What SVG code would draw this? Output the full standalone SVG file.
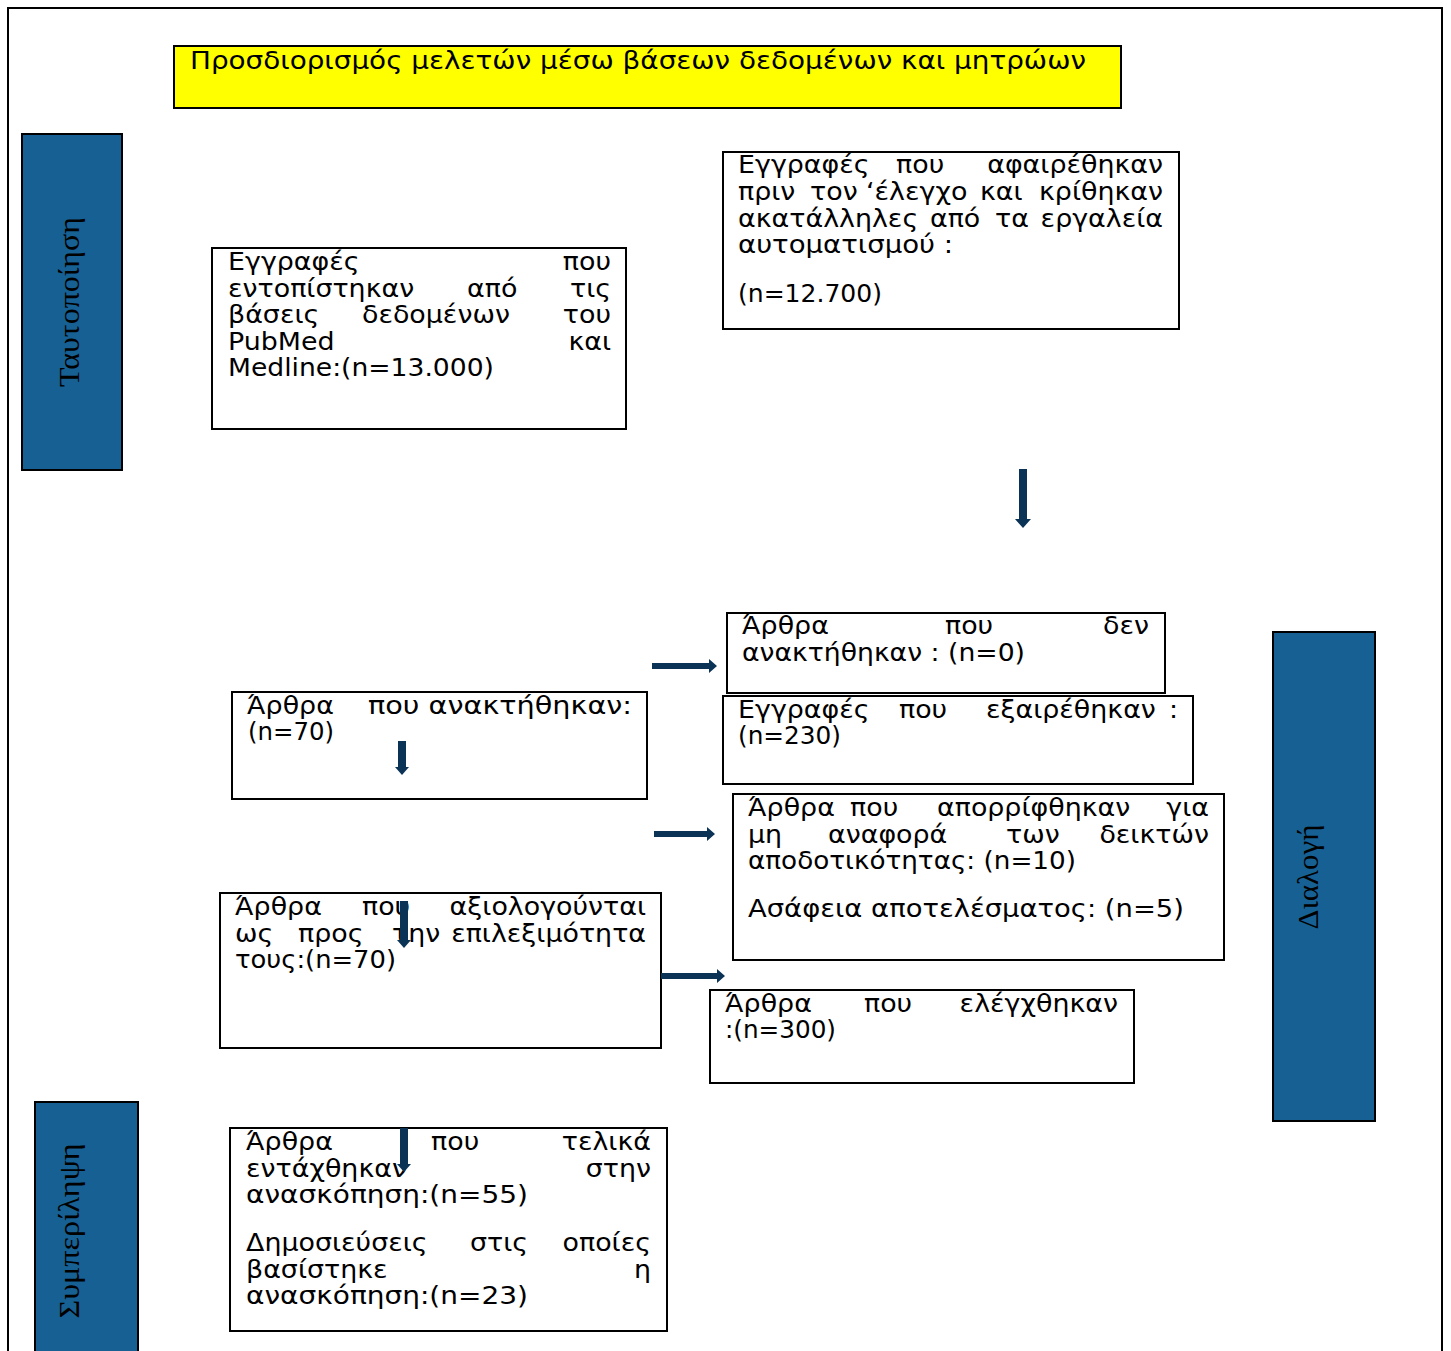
<svg xmlns="http://www.w3.org/2000/svg" width="1451" height="1351" viewBox="0 0 1451 1351">
<style>
.box{fill:#ffffff;stroke:#000000;stroke-width:2}
.side{fill:#166094;stroke:#000000;stroke-width:2}
.t{font-family:"DejaVu Sans","Liberation Sans",sans-serif;font-size:24px;fill:#000000}
.e{text-anchor:end}
.s{font-family:"Liberation Serif","DejaVu Serif",serif;font-size:30px;fill:#000000;text-anchor:middle}
.arr{fill:#0b3356}
</style>
<rect x="0" y="0" width="1451" height="1351" fill="#ffffff"/>
<path d="M8,1351 V8 H1442 V1351" fill="none" stroke="#000000" stroke-width="2"/>

<g id="title">
<rect x="174" y="46" width="947" height="62" fill="#ffff00" stroke="#000000" stroke-width="2"/>
<text class="t" x="190" y="69" font-size="26" textLength="896" lengthAdjust="spacingAndGlyphs">Προσδιορισμός μελετών μέσω βάσεων δεδομένων και μητρώων</text>
</g>

<g id="side-identification">
<rect class="side" x="22" y="134" width="100" height="336"/>
<text class="s" transform="translate(79,302) rotate(-90)" textLength="170" lengthAdjust="spacingAndGlyphs">Ταυτοποίηση</text>
</g>
<g id="side-screening">
<rect class="side" x="1273" y="632" width="102" height="489"/>
<text class="s" transform="translate(1318,877) rotate(-90)" textLength="105" lengthAdjust="spacingAndGlyphs">Διαλογή</text>
</g>
<g id="side-inclusion">
<rect class="side" x="35" y="1102" width="103" height="260"/>
<text class="s" transform="translate(79,1231) rotate(-90)" textLength="175" lengthAdjust="spacingAndGlyphs">Συμπερίληψη</text>
</g>

<g id="n-identified">
<rect class="box" x="212" y="248" width="414" height="181"/>
<g transform="translate(228 0) scale(1.12 1)">
<text class="t" x="0" y="270">Εγγραφές</text><text class="t e" x="342" y="270">που</text>
<text class="t" x="0" y="297">εντοπίστηκαν</text><text class="t" x="213.4" y="297">από</text><text class="t e" x="342" y="297">τις</text>
<text class="t" x="0" y="323">βάσεις</text><text class="t" x="119.6" y="323">δεδομένων</text><text class="t e" x="342" y="323">του</text>
<text class="t" x="0" y="350">PubMed</text><text class="t e" x="342" y="350">και</text>
</g>
<text class="t" x="228" y="376" textLength="266" lengthAdjust="spacingAndGlyphs">Medline:(n=13.000)</text>
</g>

<g id="n-removed">
<rect class="box" x="723" y="152" width="456" height="177"/>
<g transform="translate(738 0) scale(1.12 1)">
<text class="t" x="0" y="173">Εγγραφές</text><text class="t" x="141.1" y="173">που</text><text class="t e" x="379.5" y="173">αφαιρέθηκαν</text>
<text class="t" x="0" y="200">πριν</text><text class="t" x="64.3" y="200">τον</text><text class="t" x="114.3" y="200">‘έλεγχο</text><text class="t" x="216" y="200">και</text><text class="t e" x="379.5" y="200">κρίθηκαν</text>
<text class="t" x="0" y="227">ακατάλληλες</text><text class="t" x="171.4" y="227">από</text><text class="t" x="229.5" y="227">τα</text><text class="t e" x="379.5" y="227">εργαλεία</text>
</g>
<text class="t" x="738" y="253" textLength="215" lengthAdjust="spacingAndGlyphs">αυτοματισμού :</text>
<text class="t" x="738" y="302" textLength="144" lengthAdjust="spacingAndGlyphs">(n=12.700)</text>
</g>

<g id="n-not-retrieved">
<rect class="box" x="727" y="613" width="438" height="80"/>
<g transform="translate(742 0) scale(1.12 1)">
<text class="t" x="0" y="634">Άρθρα</text><text class="t" x="181.25" y="634">που</text><text class="t e" x="363.4" y="634">δεν</text>
</g>
<text class="t" x="742" y="661" textLength="283" lengthAdjust="spacingAndGlyphs">ανακτήθηκαν : (n=0)</text>
</g>

<g id="n-excluded">
<rect class="box" x="723" y="696" width="470" height="88"/>
<g transform="translate(738 0) scale(1.12 1)">
<text class="t" x="0" y="718">Εγγραφές</text><text class="t" x="143.75" y="718">που</text><text class="t" x="221.4" y="718">εξαιρέθηκαν</text><text class="t e" x="392.9" y="718">:</text>
</g>
<text class="t" x="738" y="744" textLength="103" lengthAdjust="spacingAndGlyphs">(n=230)</text>
</g>

<g id="n-retrieved">
<rect class="box" x="232" y="692" width="415" height="107"/>
<g transform="translate(247 0) scale(1.12 1)">
<text class="t" x="0" y="714">Άρθρα</text>
</g>
<text class="t" x="368" y="714" textLength="264" lengthAdjust="spacingAndGlyphs">που ανακτήθηκαν:</text>
<text class="t" x="248" y="740" textLength="86" lengthAdjust="spacingAndGlyphs">(n=70)</text>
</g>

<g id="n-rejected">
<rect class="box" x="733" y="794" width="491" height="166"/>
<g transform="translate(748 0) scale(1.12 1)">
<text class="t" x="0" y="816">Άρθρα</text><text class="t" x="91.1" y="816">που</text><text class="t" x="168.75" y="816">απορρίφθηκαν</text><text class="t e" x="411.6" y="816">για</text>
<text class="t" x="0" y="843">μη</text><text class="t" x="71.4" y="843">αναφορά</text><text class="t" x="230.4" y="843">των</text><text class="t e" x="411.6" y="843">δεικτών</text>
</g>
<text class="t" x="748" y="869" textLength="328" lengthAdjust="spacingAndGlyphs">αποδοτικότητας: (n=10)</text>
<text class="t" x="748" y="917" textLength="436" lengthAdjust="spacingAndGlyphs">Ασάφεια αποτελέσματος: (n=5)</text>
</g>

<g id="n-assessed">
<rect class="box" x="220" y="893" width="441" height="155"/>
<g transform="translate(235 0) scale(1.12 1)">
<text class="t" x="0" y="915">Άρθρα</text><text class="t" x="113.4" y="915">που</text><text class="t e" x="367" y="915">αξιολογούνται</text>
<text class="t" x="0" y="942">ως</text><text class="t" x="56.25" y="942">προς</text><text class="t" x="140.2" y="942">την</text><text class="t e" x="367" y="942">επιλεξιμότητα</text>
</g>
<text class="t" x="235" y="968" textLength="161" lengthAdjust="spacingAndGlyphs">τους:(n=70)</text>
</g>

<g id="n-checked">
<rect class="box" x="710" y="990" width="424" height="93"/>
<g transform="translate(725 0) scale(1.12 1)">
<text class="t" x="0" y="1012">Άρθρα</text><text class="t" x="124.1" y="1012">που</text><text class="t e" x="350.9" y="1012">ελέγχθηκαν</text>
</g>
<text class="t" x="725" y="1038" textLength="111" lengthAdjust="spacingAndGlyphs">:(n=300)</text>
</g>

<g id="n-included">
<rect class="box" x="230" y="1128" width="437" height="203"/>
<g transform="translate(246 0) scale(1.12 1)">
<text class="t" x="0" y="1150">Άρθρα</text><text class="t" x="165.2" y="1150">που</text><text class="t e" x="361.6" y="1150">τελικά</text>
<text class="t" x="0" y="1177">εντάχθηκαν</text><text class="t e" x="361.6" y="1177">στην</text>
<text class="t" x="0" y="1251">Δημοσιεύσεις</text><text class="t" x="200" y="1251">στις</text><text class="t e" x="361.6" y="1251">οποίες</text>
<text class="t" x="0" y="1278">βασίστηκε</text><text class="t e" x="361.6" y="1278">η</text>
</g>
<text class="t" x="246" y="1203" textLength="282" lengthAdjust="spacingAndGlyphs">ανασκόπηση:(n=55)</text>
<text class="t" x="246" y="1304" textLength="282" lengthAdjust="spacingAndGlyphs">ανασκόπηση:(n=23)</text>
</g>

<g id="connectors">
<path class="arr" d="M1019,469 h8 v50 h4 l-8,9 l-8,-9 h4 z"/>
<path class="arr" d="M652,663 h57 v-4 l8,7 l-8,7 v-4 h-57 z"/>
<path class="arr" d="M398,741 h8 v26 h3 l-7,8 l-7,-8 h3 z"/>
<path class="arr" d="M654,831 h53 v-4 l8,7 l-8,7 v-4 h-53 z"/>
<path class="arr" d="M400,901 h8 v39 h3 l-7,8 l-7,-8 h3 z"/>
<path class="arr" d="M661,973 h56 v-4 l8,7 l-8,7 v-4 h-56 z"/>
<path class="arr" d="M400,1128 h8 v36 h3 l-7,8 l-7,-8 h3 z"/>
</g>
</svg>
